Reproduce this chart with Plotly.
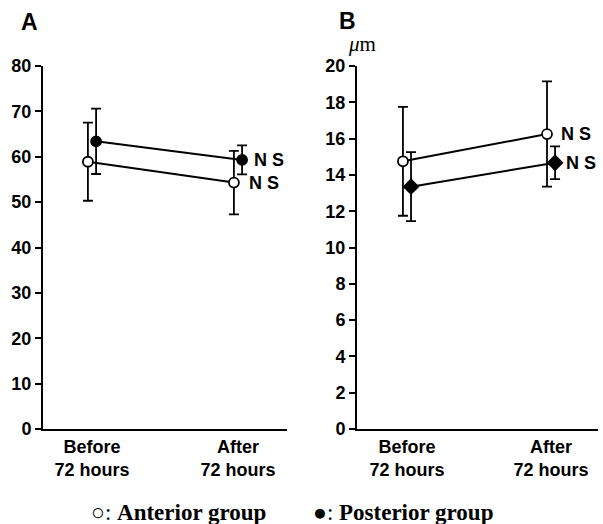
import plotly.graph_objects as go

categories = ["Before<br>72 hours", "After<br>72 hours"]

a_ant_mean = [58.9, 54.3]
a_ant_sd = [8.6, 7.0]
a_post_mean = [63.4, 59.3]
a_post_sd = [7.2, 3.2]

b_ant_mean = [14.75, 16.25]
b_ant_sd = [3.0, 2.9]
b_post_mean = [13.35, 14.67]
b_post_sd = [1.9, 0.9]

a_ticks = [0, 10, 20, 30, 40, 50, 60, 70, 80]
b_ticks = [0, 2, 4, 6, 8, 10, 12, 14, 16, 18, 20]

W, H = 603, 524
OFF = 0.028
idx = list(range(len(categories)))

def xs(sign):
    return [i + sign * OFF for i in idx]

fig = go.Figure()

def add_series(mean, sd, sign, xa, ya, symbol, fill):
    fig.add_trace(go.Scatter(
        x=xs(sign), y=mean, xaxis=xa, yaxis=ya, mode="lines+markers",
        line=dict(color="black", width=2),
        marker=dict(symbol=symbol, size=10 if symbol == "circle" else 11,
                    color=fill, line=dict(color="black", width=1.8)),
        error_y=dict(type="data", array=sd, visible=True, color="black",
                     thickness=1.8, width=5),
        showlegend=False, hoverinfo="skip"))

add_series(a_ant_mean, a_ant_sd, -1, "x", "y", "circle", "white")
add_series(a_post_mean, a_post_sd, 1, "x", "y", "circle", "black")
add_series(b_ant_mean, b_ant_sd, -1, "x2", "y2", "circle", "white")
add_series(b_post_mean, b_post_sd, 1, "x2", "y2", "diamond", "black")

tickfont = dict(family="Liberation Sans, Arial", size=18, color="black", weight="bold")
ydom = [95 / H, 458 / H]

def xaxis(dom, rng):
    return dict(domain=dom, range=rng, tickvals=idx, ticktext=categories,
                showline=True, linecolor="black", linewidth=2, ticks="",
                showgrid=False, zeroline=False, tickfont=tickfont, fixedrange=True,
                automargin=False)

def yaxis(anchor, rng, tv):
    return dict(domain=ydom, range=rng, tickvals=tv, anchor=anchor,
                showline=True, linecolor="black", linewidth=2, ticks="outside",
                ticklen=6, tickwidth=2, tickcolor="black", showgrid=False,
                zeroline=False, tickfont=tickfont, fixedrange=True,
                automargin=False, ticklabelstandoff=0)

fig.update_layout(
    template="none",
    width=W, height=H, margin=dict(l=0, r=0, t=0, b=0, pad=0),
    paper_bgcolor="white", plot_bgcolor="white",
    xaxis=dict(xaxis([43 / W, 287 / W], [-0.3356, 1.3356]), anchor="y"),
    yaxis=yaxis("x", [0, 80], a_ticks),
    xaxis2=dict(xaxis([357 / W, 598 / W], [-0.347, 1.326]), anchor="y2"),
    yaxis2=yaxis("x2", [0, 20], b_ticks),
)

ns_font = dict(family="Liberation Sans, Arial", size=18, color="black")
for xa, ya, mean, sign, shift in [("x", "y", a_post_mean, 1, 10),
                                  ("x", "y", a_ant_mean, -1, 13),
                                  ("x2", "y2", b_ant_mean, -1, 12),
                                  ("x2", "y2", b_post_mean, 1, 9)]:
    fig.add_annotation(x=xs(sign)[1], y=mean[1], xref=xa, yref=ya, text="<b>N S</b>",
                       showarrow=False, xanchor="left", yanchor="middle", xshift=shift,
                       font=ns_font)

fig.add_annotation(x=19 / W, y=1 - 22 / H, xref="paper", yref="paper", text="<b>A</b>",
                   showarrow=False, xanchor="left", yanchor="middle",
                   font=dict(family="Liberation Sans, Arial", size=23, color="black"))
fig.add_annotation(x=337 / W, y=1 - 21 / H, xref="paper", yref="paper", text="<b>B</b>",
                   showarrow=False, xanchor="left", yanchor="middle",
                   font=dict(family="Liberation Sans, Arial", size=23, color="black"))
fig.add_annotation(x=362 / W, y=1 - 44 / H, xref="paper", yref="paper", text="<i>μ</i>m",
                   showarrow=False, xanchor="center", yanchor="middle",
                   font=dict(family="Liberation Serif, Times New Roman", size=21, color="black"))

leg_font = dict(family="Liberation Serif, Times New Roman", size=23, color="black")
fig.add_annotation(x=178 / W, y=1 - 512 / H, xref="paper", yref="paper",
                   text="○: <b>Anterior group</b>", showarrow=False,
                   xanchor="center", yanchor="middle", font=leg_font)
fig.add_annotation(x=403 / W, y=1 - 512 / H, xref="paper", yref="paper",
                   text="●: <b>Posterior group</b>", showarrow=False,
                   xanchor="center", yanchor="middle", font=leg_font)

fig.write_html("out.html", config={"displayModeBar": False},
               post_script="document.body.style.margin='0px';document.body.style.overflow='hidden';")
